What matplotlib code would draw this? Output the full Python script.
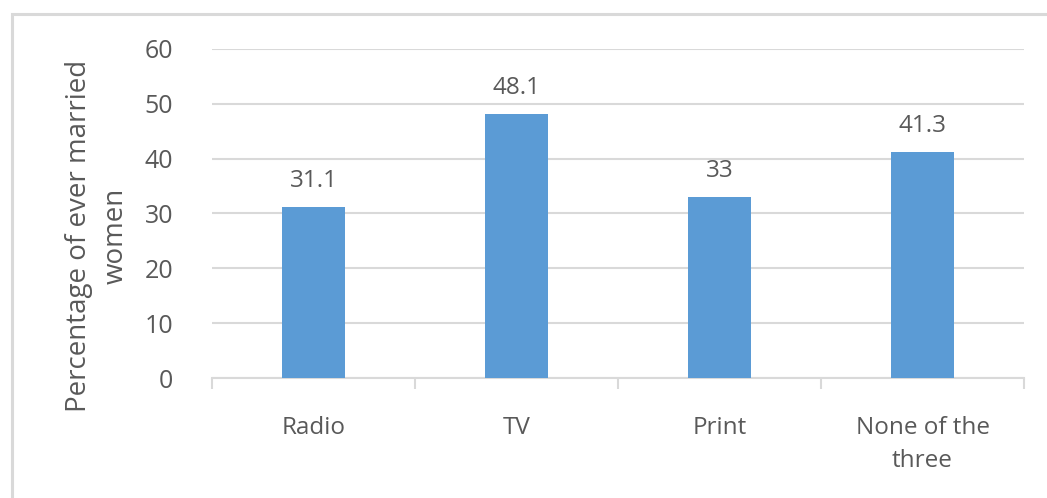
import matplotlib.pyplot as plt
from matplotlib.patches import Rectangle
import numpy as np

categories = ['Radio', 'TV', 'Print', 'None of the\nthree']
values = [31.1, 48.1, 33, 41.3]
value_labels = ['31.1', '48.1', '33', '41.3']
y_ticks = [0, 10, 20, 30, 40, 50, 60]

TEXT = '#595959'
GRID = '#D9D9D9'
BAR = '#5B9BD5'

plt.rcParams['font.family'] = ['Open Sans', 'DejaVu Sans']

fig = plt.figure(figsize=(10.47, 4.98), dpi=100)
ax = fig.add_axes([212 / 1047, 1 - 378 / 498, (1024 - 212) / 1047, (378 - 49) / 498])

# light frame round the chart (runs off the right and bottom edges)
fig.patches.append(Rectangle((12 / 1047, -0.05), 1.1, 1 - 14 / 498 + 0.05,
                             transform=fig.transFigure, fill=False,
                             edgecolor=GRID, linewidth=2.2))

x = np.arange(len(categories))
ax.bar(x, values, width=0.315, color=BAR, zorder=3)
for xi, v, lab in zip(x, values, value_labels):
    ax.annotate(lab, (xi, v), xytext=(0, 14), textcoords='offset pixels',
                ha='center', va='bottom', fontsize=17.5, color=TEXT)

ax.set_xlim(-0.5, len(categories) - 0.5)
ax.set_ylim(0, 60)
ax.set_yticks(y_ticks)
ax.yaxis.grid(True, color=GRID, linewidth=1.5, zorder=0)
ax.set_axisbelow(True)

ax.set_xticks(x)
ax.set_xticklabels(categories, fontsize=17.5, color=TEXT, linespacing=1.5)
ax.set_xticks(np.arange(-0.5, len(categories)), minor=True)
ax.tick_params(axis='x', which='major', length=0, pad=27)
ax.tick_params(axis='x', which='minor', length=8, width=1.5, color=GRID)
ax.tick_params(axis='y', length=0, pad=28, labelsize=18, labelcolor=TEXT)

for side in ['top', 'right', 'left']:
    ax.spines[side].set_visible(False)
ax.spines['bottom'].set_color(GRID)
ax.spines['bottom'].set_linewidth(1.5)

ax.set_ylabel('Percentage of ever married\nwomen', fontsize=20, color=TEXT,
              linespacing=1.45)
ax.yaxis.set_label_coords(-82 / 812, (378 - 236) / 329)

fig.savefig('out.png', dpi=100)
